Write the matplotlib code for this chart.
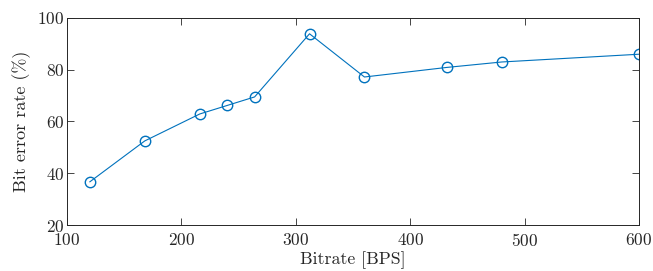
import matplotlib
matplotlib.use("Agg")
import matplotlib.pyplot as plt

bitrate = [120, 168, 216, 240, 264, 312, 360, 432, 480, 600]
ber = [36.7, 52.5, 62.9, 66.2, 69.5, 93.9, 77.2, 80.9, 83.0, 86.0]
xticks = [100, 200, 300, 400, 500, 600]
yticks = [20, 40, 60, 80, 100]

plt.rcParams['font.family'] = 'cmr10'
plt.rcParams['axes.formatter.use_mathtext'] = True
plt.rcParams['font.size'] = 12.5

fig = plt.figure(figsize=(6.53, 2.71), dpi=100)
ax = fig.add_axes([67/653, 1 - 225/271, (639-67)/653, (225-18)/271])
ax.plot(bitrate, ber, color='#0072BD', lw=0.8, marker='o', markersize=7.5,
        markerfacecolor='none', markeredgecolor='#0072BD', markeredgewidth=1.0)
ax.set_xlim(100, 600)
ax.set_ylim(20, 100)
ax.set_xticks(xticks)
ax.set_yticks(yticks)
ax.tick_params(direction='in', top=True, right=True, length=5, width=0.6,
               colors='#262626', labelsize=12.5)
ax.tick_params(axis='x', pad=5)
ax.tick_params(axis='y', pad=2)
for s in ax.spines.values():
    s.set_linewidth(0.7)
    s.set_color('#262626')
ax.set_xlabel('Bitrate [BPS]', fontsize=12.8, color='#262626', labelpad=2)
ax.set_ylabel('Bit error rate (%)', fontsize=13, color='#262626', labelpad=4)
fig.savefig('out.png', dpi=100)
